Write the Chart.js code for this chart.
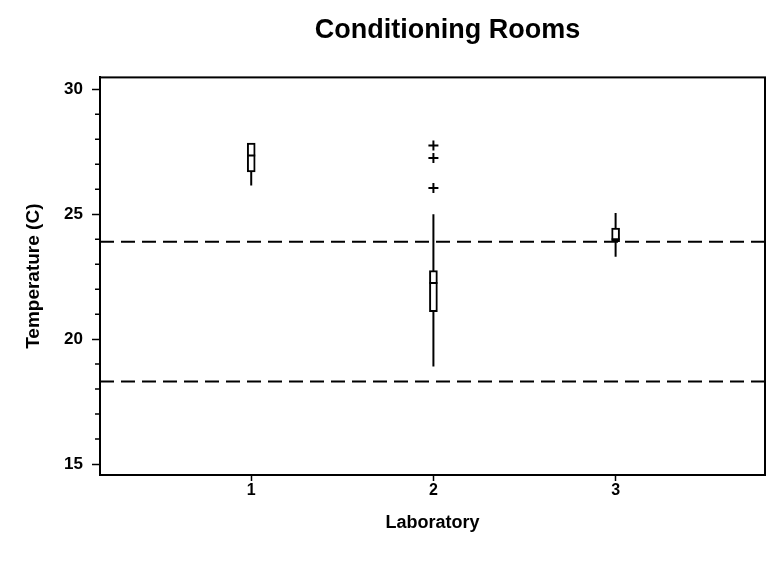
<!DOCTYPE html>
<html>
<head>
<meta charset="utf-8">
<script src="https://cdn.jsdelivr.net/npm/chart.js@4"></script>
<style>
html,body{margin:0;padding:0;background:#fff;}
#wrap{width:772px;height:572px;position:relative;}
</style>
</head>
<body>
<div id="wrap"><canvas id="c" width="772" height="572"></canvas></div>
<script>
// ---- data ----
const labs = [1, 2, 3];
const whiskerLow  = [26.15, 18.9, 23.3];
const q1          = [26.7, 21.1, 23.9];
const median      = [27.35, 22.25, 24.0];
const q3          = [27.85, 22.75, 24.45];
const whiskerHigh = [27.85, 25.0, 25.05];
const outlierLab  = [2, 2, 2];
const outlierVal  = [27.75, 27.25, 26.05];
const refLines    = [23.9, 18.3];
const yTicks      = [15, 20, 25, 30];
const yMinorTicks = [16, 17, 18, 19, 21, 22, 23, 24, 26, 27, 28, 29];
const xMin = 0.17, xMax = 3.82, yMin = 14.56, yMax = 30.48;

const FONT = "'Liberation Sans', Arial, Helvetica, sans-serif";

const boxData = labs.map((x, i) => ({x: x, y: [q1[i], q3[i]]}));
const whiskerData = [];
labs.forEach((x, i) => {
  whiskerData.push({x: x, y: whiskerLow[i]});
  whiskerData.push({x: x, y: whiskerHigh[i]});
  whiskerData.push({x: x, y: null});
});
const medianData = labs.map((x, i) => ({x: x, y: median[i]}));
const outlierData = outlierLab.map((x, i) => ({x: x, y: outlierVal[i]}));
const refDatasets = refLines.map(v => ({
  type: 'line',
  data: [{x: xMin, y: v}, {x: xMax, y: v}],
  borderColor: '#000', borderWidth: 2, borderDash: [14, 7],
  pointRadius: 0, order: 4
}));

const framePlugin = {
  id: 'frame',
  afterLayout(chart) {
    // centre the title over the plotting region as in the reference
    if (chart.titleBlock) {
      chart.titleBlock.left = 128;
    }
  },
  afterDraw(chart) {
    const a = chart.chartArea, ctx = chart.ctx;
    ctx.save();
    ctx.strokeStyle = '#000';
    ctx.lineWidth = 2;
    ctx.strokeRect(a.left, a.top, a.right - a.left, a.bottom - a.top);
    // minor ticks on the y axis
    const ys = chart.scales.y;
    ctx.lineWidth = 1.5;
    ctx.beginPath();
    yMinorTicks.forEach(v => {
      const p = ys.getPixelForValue(v);
      ctx.moveTo(a.left - 5, p);
      ctx.lineTo(a.left, p);
    });
    ctx.stroke();
    ctx.restore();
  }
};

new Chart(document.getElementById('c'), {
  type: 'bar',
  data: {
    datasets: [
      {
        type: 'line', data: whiskerData, borderColor: '#000', borderWidth: 2,
        pointRadius: 0, spanGaps: false, order: 3
      },
      {
        type: 'bar', data: boxData, backgroundColor: '#fff', borderColor: '#000',
        borderWidth: 2, borderSkipped: false, barThickness: 8, grouped: false, order: 2
      },
      {
        type: 'line', data: medianData, showLine: false, pointStyle: 'line',
        pointRadius: 4, borderColor: '#000', borderWidth: 2, order: 1
      },
      {
        type: 'line', data: outlierData, showLine: false, pointStyle: 'cross',
        pointRadius: 5, borderColor: '#000', borderWidth: 2, order: 1
      },
      ...refDatasets
    ]
  },
  options: {
    responsive: false,
    animation: false,
    layout: {padding: {left: 10, right: 5, top: 0, bottom: 38}},
    plugins: {
      legend: {display: false},
      tooltip: {enabled: false},
      title: {
        display: true, text: 'Conditioning Rooms', color: '#000',
        font: {family: FONT, size: 27, weight: 'bold'},
        padding: {top: 14, bottom: 31}
      }
    },
    scales: {
      x: {
        type: 'linear', min: xMin, max: xMax, offset: false,
        afterBuildTicks: s => { s.ticks = labs.map(v => ({value: v})); },
        afterFit: s => { s.height = 59; },
        grid: {drawOnChartArea: false, offset: false, tickLength: 6, color: '#000', tickWidth: 1.5},
        border: {display: true, color: '#000', width: 2},
        ticks: {color: '#000', padding: 0, font: {family: FONT, size: 16, weight: 'bold'},
                callback: v => String(v)},
        title: {display: true, text: 'Laboratory', color: '#000',
                font: {family: FONT, size: 18, weight: 'bold'}, padding: {top: 0, bottom: 0}}
      },
      y: {
        type: 'linear', min: yMin, max: yMax,
        afterBuildTicks: s => { s.ticks = yTicks.map(v => ({value: v})); },
        afterFit: s => { s.width = 90; },
        grid: {drawOnChartArea: false, tickLength: 8, color: '#000', tickWidth: 1.5},
        border: {display: true, color: '#000', width: 2},
        ticks: {color: '#000', padding: 9, font: {family: FONT, size: 17, weight: 'bold'},
                callback: v => String(v)},
        title: {display: true, text: 'Temperature (C)', color: '#000',
                font: {family: FONT, size: 19, weight: 'bold'}, padding: {top: 12, bottom: 0}}
      }
    }
  },
  plugins: [framePlugin]
});
</script>
</body>
</html>
